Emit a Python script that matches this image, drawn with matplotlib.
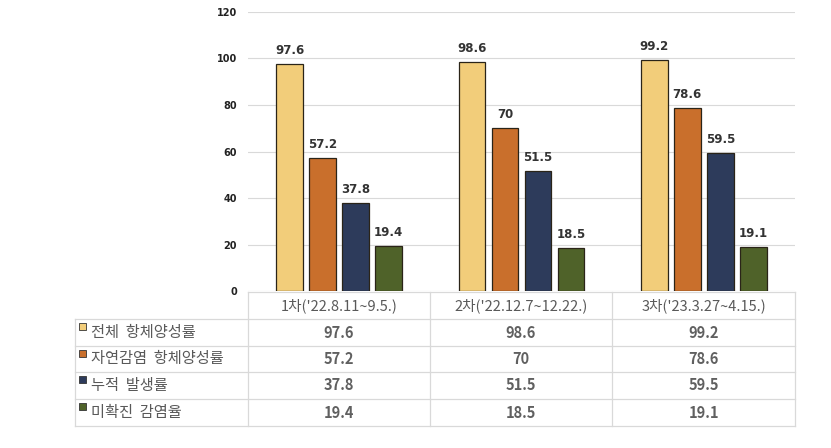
import matplotlib
matplotlib.use("Agg")
import matplotlib.pyplot as plt
import numpy as np

plt.rcParams['font.family'] = ['Noto Sans CJK KR', 'DejaVu Sans']

rounds = ["1차('22.8.11~9.5.)", "2차('22.12.7~12.22.)", "3차('23.3.27~4.15.)"]
series = ['전체 항체양성률', '자연감염 항체양성률', '누적 발생률', '미확진 감염율']
total_pos = [97.6, 98.6, 99.2]
natural_pos = [57.2, 70, 78.6]
cum_inc = [37.8, 51.5, 59.5]
unconfirmed = [19.4, 18.5, 19.1]
yticks = [0, 20, 40, 60, 80, 100, 120]

values = [total_pos, natural_pos, cum_inc, unconfirmed]
colors = ['#F2CD7A', '#C96F2C', '#2D3B5B', '#4F6229']

W, H = 831, 448
fig = plt.figure(figsize=(W / 100, H / 100), dpi=100)

# plot area in pixels
x0, x1 = 248, 795
ytop, ybot = 12, 291
ax = fig.add_axes([x0 / W, 1 - ybot / H, (x1 - x0) / W, (ybot - ytop) / H])

x = np.arange(len(rounds))
step = 0.181
width = 0.145
for i, (vals, c) in enumerate(zip(values, colors)):
    pos = x + (i - 1.5) * step
    ax.bar(pos, vals, width, color=c, edgecolor='#2a2418', linewidth=0.9, zorder=3)
    for p, v in zip(pos, vals):
        ax.text(p, v + 3, f'{v:g}', ha='center', va='bottom', fontsize=8.5,
                fontweight='bold', color='#333333', family='DejaVu Sans')

ax.set_xlim(-0.5, 2.5)
ax.set_ylim(0, 120)
ax.set_yticks(yticks)
ax.set_yticklabels([str(t) for t in yticks], fontsize=7, fontweight='bold',
                   family='DejaVu Sans', color='#222222')
ax.tick_params(axis='y', length=0, pad=8)
ax.set_xticks([])
ax.grid(axis='y', color='#D9D9D9', linewidth=0.8, zorder=0)
for s in ax.spines.values():
    s.set_visible(False)

# data table drawn in pixel coordinates
tb = fig.add_axes([0, 0, 1, 1])
tb.set_xlim(0, W)
tb.set_ylim(H, 0)
tb.axis('off')
tb.patch.set_alpha(0)

line_c = '#D9D9D9'
col_x = [248, 430, 612, 795]
row_y = [292, 319, 346, 372, 399, 426]
left = 75

# header row
tb.plot([col_x[0], col_x[-1]], [row_y[0]] * 2, color=line_c, lw=0.9)
for yy in row_y[1:]:
    tb.plot([left, col_x[-1]], [yy, yy], color=line_c, lw=0.9)
for xx in col_x:
    tb.plot([xx, xx], [row_y[0], row_y[-1]], color=line_c, lw=0.9)
tb.plot([left, left], [row_y[1], row_y[-1]], color=line_c, lw=0.9)

for j, r in enumerate(rounds):
    tb.text((col_x[j] + col_x[j + 1]) / 2, (row_y[0] + row_y[1]) / 2, r,
            ha='center', va='center', fontsize=10.5, color='#595959')

for i, (name, vals, c) in enumerate(zip(series, values, colors)):
    yc = (row_y[i + 1] + row_y[i + 2]) / 2
    tb.add_patch(plt.Rectangle((79, yc - 9), 7, 7, facecolor=c,
                               edgecolor='#333333', lw=0.6))
    tb.text(91, yc, name.replace(' ', '  '), ha='left', va='center',
            fontsize=11, color='#595959')
    for j, v in enumerate(vals):
        tb.text((col_x[j] + col_x[j + 1]) / 2, yc, f'{v:g}', ha='center',
                va='center', fontsize=10.5, fontweight='bold', color='#606060')

fig.savefig('out.png', dpi=100)
